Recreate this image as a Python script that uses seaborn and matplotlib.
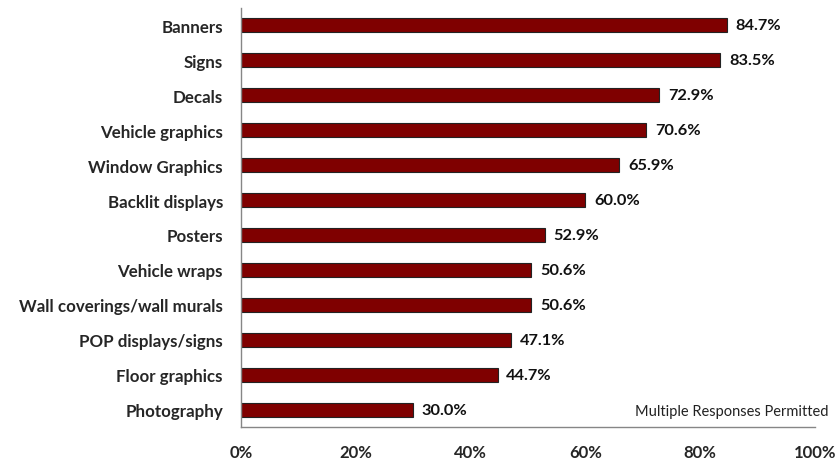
import matplotlib
matplotlib.use("Agg")
import matplotlib.pyplot as plt
import numpy as np
import pandas as pd
import seaborn as sns
from matplotlib.ticker import FixedLocator, PercentFormatter

categories = ["Banners", "Signs", "Decals", "Vehicle graphics", "Window Graphics",
              "Backlit displays", "Posters", "Vehicle wraps", "Wall coverings/wall murals",
              "POP displays/signs", "Floor graphics", "Photography"]
values = [84.7, 83.5, 72.9, 70.6, 65.9, 60.0, 52.9, 50.6, 50.6, 47.1, 44.7, 30.0]
xticks = [0, 20, 40, 60, 80, 100]
note = "Multiple Responses Permitted"

sns.set_style("white")
plt.rcParams["font.family"] = ["Lato", "DejaVu Sans"]

df = pd.DataFrame({"cat": categories, "val": values})

fig = plt.figure(figsize=(8.38, 4.6), dpi=100)
ax = fig.add_axes([241/838, 1-428/460, (815-241)/838, (428-9)/460])

sns.barplot(data=df, x="val", y="cat", orient="h", color="#7F0000", saturation=1,
            width=0.4, edgecolor="#222222", linewidth=0.8, ax=ax)

ax.set_xlim(0, 100)
ax.set_ylim(len(categories)-0.5, -0.5)
ax.set_xlabel("")
ax.set_ylabel("")
ax.xaxis.set_major_locator(FixedLocator(xticks))
ax.xaxis.set_major_formatter(PercentFormatter(decimals=0))

for s in ["top", "right"]:
    ax.spines[s].set_visible(False)
for s in ["left", "bottom"]:
    ax.spines[s].set_color("#868686")
    ax.spines[s].set_linewidth(1.0)

ax.tick_params(axis="y", which="major", length=0, pad=13, labelsize=12.2)
ax.yaxis.set_minor_locator(FixedLocator(np.arange(-0.5, len(categories), 1.0)))
ax.tick_params(axis="y", which="minor", length=6, width=1, color="#868686", direction="out")
ax.tick_params(axis="x", which="major", length=4, width=1, color="#868686", direction="out",
               pad=8, labelsize=12)
for lab in ax.get_yticklabels() + ax.get_xticklabels():
    lab.set_fontweight("bold")

for i, v in enumerate(values):
    ax.text(v + 1.5, i, f"{v:.1f}%", va="center", ha="left", fontsize=11.8,
            fontweight="bold", color="#111111")

ax.text((828-241)/574, (428-412)/419, note, transform=ax.transAxes, ha="right",
        va="center", fontsize=10.5, color="#222222")

fig.savefig("out.png", dpi=100)
